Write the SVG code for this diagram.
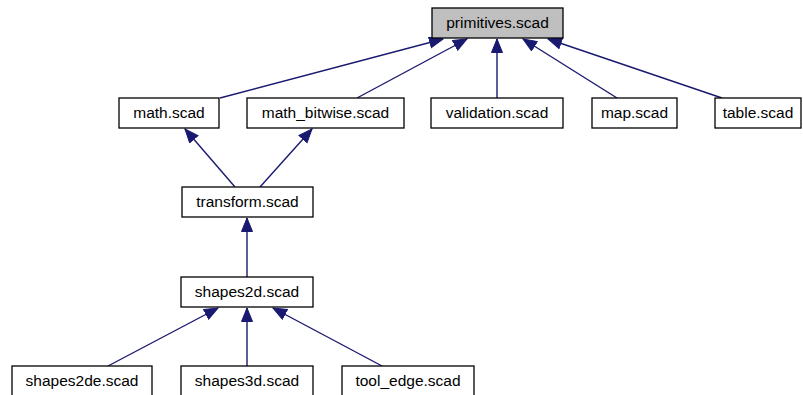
<svg xmlns="http://www.w3.org/2000/svg" width="803" height="395" viewBox="0 0 803 395">
  <style>
    .node rect { fill: #ffffff; stroke: #000000; stroke-width: 1.3; }
    .node.root rect { fill: #bfbfbf; }
    .node text { font-family: "Liberation Sans", Arial, sans-serif; font-size: 15.5px; fill: #000000; text-anchor: middle; }
    .edges path { fill: none; stroke: #191970; stroke-width: 1.4; marker-end: url(#arrow); }
  </style>
  <defs>
    <marker id="arrow" markerUnits="userSpaceOnUse" markerWidth="15" markerHeight="13" refX="14" refY="6" orient="auto" viewBox="0 0 15 13">
      <polygon points="0.5,0.5 14,6 0.5,11.5" fill="#191970" stroke="#191970" stroke-width="1"/>
    </marker>
  </defs>
  <rect width="803" height="395" fill="#ffffff"/>

  <!-- dependency edges: child include -> included file -->
  <g id="edges" class="edges">
    <path d="M220,98 L443,39"/>
    <path d="M357,98 L467,39"/>
    <path d="M497,98 L497,39"/>
    <path d="M617,98 L523,39"/>
    <path d="M722,98 L548,39"/>
    <path d="M235,187 L185,129"/>
    <path d="M260,187 L312,129"/>
    <path d="M247,277 L247,218"/>
    <path d="M108,366 L218,308"/>
    <path d="M247,366 L247,308"/>
    <path d="M382,366 L273,308"/>
  </g>

  <g id="primitives" class="node root">
    <rect x="432" y="8" width="131" height="30"/>
    <text x="497.5" y="27.5">primitives.scad</text>
  </g>
  <g id="math" class="node">
    <rect x="119" y="98" width="100" height="30"/>
    <text x="169" y="117.5">math.scad</text>
  </g>
  <g id="math_bitwise" class="node">
    <rect x="247" y="98" width="157" height="30"/>
    <text x="325.5" y="117.5">math_bitwise.scad</text>
  </g>
  <g id="validation" class="node">
    <rect x="431" y="98" width="132" height="30"/>
    <text x="497" y="117.5">validation.scad</text>
  </g>
  <g id="map" class="node">
    <rect x="592" y="98" width="85" height="30"/>
    <text x="634.5" y="117.5">map.scad</text>
  </g>
  <g id="table" class="node">
    <rect x="715" y="98" width="86" height="30"/>
    <text x="758" y="117.5">table.scad</text>
  </g>
  <g id="transform" class="node">
    <rect x="182" y="187" width="131" height="30"/>
    <text x="247.5" y="206.5">transform.scad</text>
  </g>
  <g id="shapes2d" class="node">
    <rect x="181" y="277" width="132" height="30"/>
    <text x="247" y="296.5">shapes2d.scad</text>
  </g>
  <g id="shapes2de" class="node">
    <rect x="12" y="366" width="140" height="30"/>
    <text x="82" y="385.5">shapes2de.scad</text>
  </g>
  <g id="shapes3d" class="node">
    <rect x="181" y="366" width="132" height="30"/>
    <text x="247" y="385.5">shapes3d.scad</text>
  </g>
  <g id="tool_edge" class="node">
    <rect x="342" y="366" width="132" height="30"/>
    <text x="408" y="385.5">tool_edge.scad</text>
  </g>
</svg>
